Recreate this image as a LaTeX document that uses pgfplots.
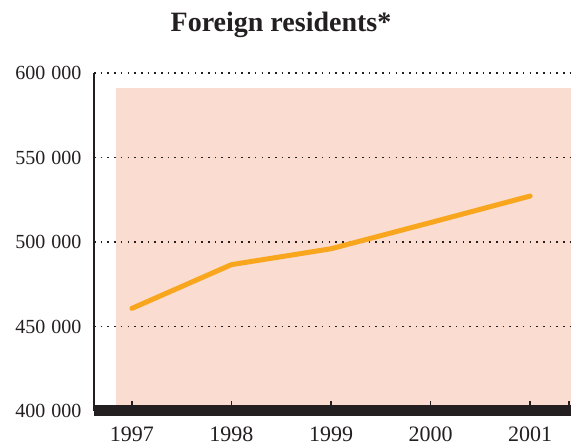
\documentclass[border=0pt]{standalone}
\usepackage{fontspec}
\setmainfont{Liberation Serif}
\usepackage{pgfplots}
\pgfplotsset{compat=1.18}
\definecolor{bgpink}{RGB}{251,220,209}
\definecolor{lineorange}{RGB}{248,166,30}
\definecolor{ink}{RGB}{35,31,32}
\begin{document}
\begin{tikzpicture}[x=1pt,y=1pt]
\node[anchor=base, font=\fontsize{28}{30}\selectfont\bfseries, text=ink, inner sep=0] at (281,415) {Foreign residents*};
\begin{axis}[
  at={(94pt,36pt)}, anchor=south west,
  width=477pt, height=338pt, scale only axis,
  xmin=1996.62, xmax=2001.41, ymin=400000, ymax=600000,
  set layers,
  axis lines=left,
  x axis line style={-, line width=11pt, draw=ink},
  y axis line style={-, line width=2pt, draw=ink},
  xtick={1997,1998,1999,2000,2001,2001.39},
  xticklabels={1997,1998,1999,2000,2001,{}},
  ytick={400000,450000,500000,550000,600000},
  yticklabels={400\hspace{0.3em}000,450\hspace{0.3em}000,500\hspace{0.3em}000,550\hspace{0.3em}000,600\hspace{0.3em}000},
  scaled y ticks=false,
  tick align=inside,
  major tick length=10pt,
  xtick style={line width=1.5pt, draw=ink},
  ytick style={draw=none},
  ymajorgrids,
  major grid style={draw=ink, line width=1.6pt, dash pattern=on 1.6pt off 5.1pt},
  yticklabel style={font=\fontsize{20}{22}\selectfont, text=ink, xshift=-9pt},
  xticklabel style={font=\fontsize{22}{24}\selectfont, text=ink, yshift=-12pt},
  /pgf/number format/assume math mode=true,
]
\addplot[on layer=axis background, fill=bgpink, draw=none] coordinates {
(1996.84,400000) (1996.84,591000) (2001.41,591000) (2001.41,400000)} -- cycle;
\addplot[lineorange, line width=5pt, line join=round, line cap=round] coordinates {
(1997,460700) (1998,486600) (1999,496000) (2000,511500) (2001,527200)};
\end{axis}
\pgfresetboundingbox
\path (0,0) rectangle (574,447);
\end{tikzpicture}
\end{document}
